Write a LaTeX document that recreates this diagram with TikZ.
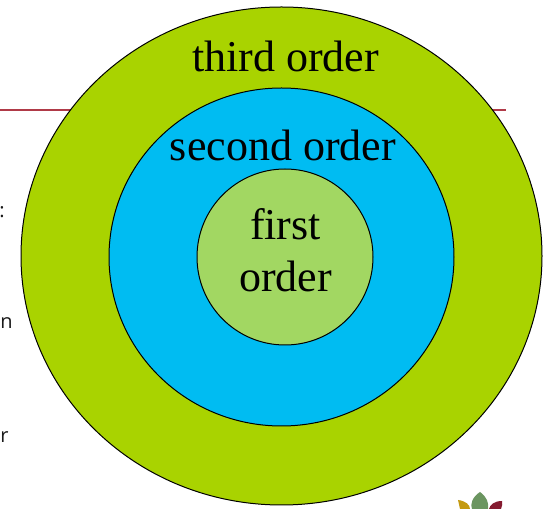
\documentclass[tikz,border=0pt]{standalone}
\usepackage{fontspec}
\setmainfont{Liberation Serif}
\setsansfont{Open Sans}
\usetikzlibrary{shapes.geometric, positioning}

\definecolor{thirdgreen}{HTML}{A9D300}
\definecolor{secondblue}{HTML}{00BCF2}
\definecolor{firstgreen}{HTML}{A2D762}
\definecolor{rulered}{HTML}{B03A48}
\definecolor{leafgold}{HTML}{C49A10}
\definecolor{leafgreen}{HTML}{6B9560}
\definecolor{leafred}{HTML}{851B30}

\begin{document}
\begin{tikzpicture}[x=0.75pt, y=-0.75pt, ring/.style={draw=black, line width=0.75pt, ellipse, inner sep=0pt}, order/.style={align=center, font=\fontsize{33}{39}\selectfont}, stray/.style={inner sep=0pt, font=\sffamily\fontsize{15}{18}\selectfont, text=black!90}]

    \useasboundingbox (0,0) rectangle (547,509);

    % Rule behind the rings
    \coordinate (ruleleft) at (0,110);
    \coordinate (ruleright) at (506,110);
    \draw[draw=rulered, line width=1pt] (ruleleft) -- (ruleright);

    % Rings
    \node[ring, fill=thirdgreen, minimum width=390.75pt, minimum height=373.5pt] (third) at (281.5,256) {};
    \node[ring, fill=secondblue, minimum width=258.75pt, minimum height=253.5pt] (second) at (281.5,257) {};
    \node[ring, fill=firstgreen, minimum width=132pt, minimum height=132pt] (first) at (285,257) {};

    % Labels
    \node[order] (thirdlabel) at (285.5,56) {third order};
    \node[order] (secondlabel) at (283,145) {second order};
    \node[order] (firstlabel) at (285.5,250) {first\\order};

    % Cut-off text at the left edge
    \node[stray, anchor=west] (colon) at (-1,212) {:};
    \node[stray, anchor=west] (ntail) at (0,323) {n};
    \node[stray, anchor=west] (rtail) at (0,437) {r};

    % Leaves
    \fill[leafgold] (458,500) .. controls (466,501) and (470,505) .. (470,509) -- (460,509) -- cycle;
    \fill[leafgreen] (480,492) .. controls (472,497) and (470,505) .. (472,509) -- (488,509) .. controls (489,503) and (487,497) .. (480,492) -- cycle;
    \fill[leafred] (502,501) .. controls (494,501) and (490,505) .. (489,509) -- (501,509) .. controls (502,506) and (503,503) .. (502,501) -- cycle;

\end{tikzpicture}
\end{document}
